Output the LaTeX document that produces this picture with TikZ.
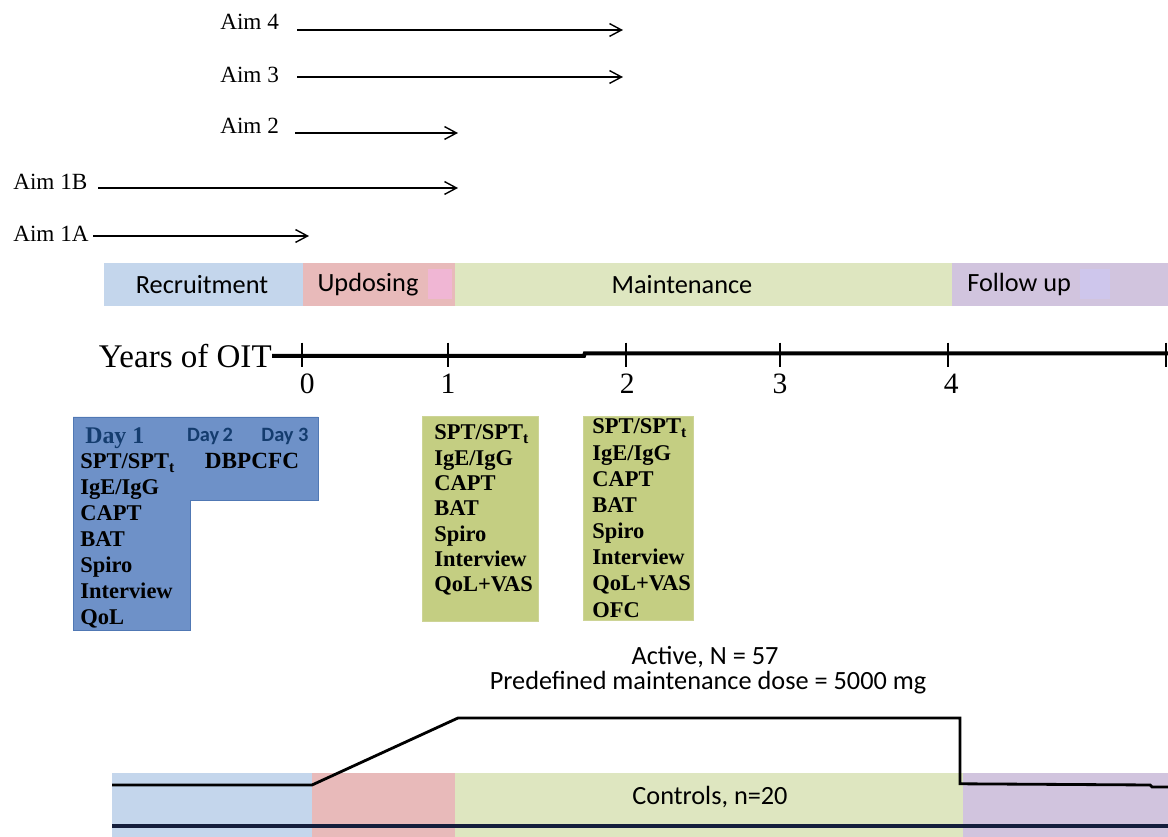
\documentclass[tikz,border=0pt]{standalone}
\usepackage{fontspec}
\setmainfont{Liberation Serif}
\newfontfamily\calibri{Carlito}
\usetikzlibrary{arrows.meta}

\definecolor{recblue}{RGB}{196,214,236}
\definecolor{upred}{RGB}{232,186,186}
\definecolor{uppink}{RGB}{240,182,212}
\definecolor{maingreen}{RGB}{222,230,192}
\definecolor{follav}{RGB}{209,196,222}
\definecolor{follpatch}{RGB}{206,198,236}
\definecolor{dayblue}{RGB}{110,145,200}
\definecolor{dayedge}{RGB}{80,120,180}
\definecolor{visgreen}{RGB}{196,206,130}
\definecolor{visedge}{RGB}{205,212,150}
\definecolor{daytxt}{RGB}{20,60,110}
\definecolor{ctrlline}{RGB}{20,30,60}

\begin{document}
\begin{tikzpicture}[
  aimtxt/.style={anchor=west,inner sep=0,font=\fontsize{16.5}{19}\selectfont},
  aimarrow/.style={line width=1pt,-{Straight Barb[length=3mm,width=3.2mm]}},
  phasetxt/.style={inner sep=0,font=\calibri\fontsize{18.7}{22}\selectfont},
  testtxt/.style={anchor=base west,inner sep=0,font=\fontsize{16}{18}\selectfont\bfseries},
  daysans/.style={anchor=base,inner sep=0,text=daytxt,font=\calibri\fontsize{14.5}{16}\selectfont\bfseries},
  axisline/.style={line width=2.8pt},
]
\useasboundingbox (0,0) rectangle (29.2,20.925);

% aims
\foreach \n/\lab/\lx/\ly/\sx/\ex/\ay in {a4/Aim 4/5.5/20.375/7.425/15.575/20.175,
    a3/Aim 3/5.5/19.05/7.425/15.575/19.0,
    a2/Aim 2/5.5/17.775/7.375/11.45/17.6,
    a1b/Aim 1B/0.325/16.375/2.45/11.45/16.225,
    a1a/Aim 1A/0.325/15.075/2.325/7.725/15.025}{
  \node[aimtxt] (\n) at (\lx,\ly) {\lab};
  \coordinate (\n-s) at (\sx,\ay);
  \coordinate (\n-e) at (\ex,\ay);
  \draw[aimarrow] (\n-s) -- (\n-e);
}

% phase bar
\fill[recblue] (2.6,13.275) rectangle (7.575,14.35);
\fill[upred] (7.575,13.275) rectangle (11.375,14.35);
\fill[uppink] (10.7,13.45) rectangle (11.3,14.2);
\fill[maingreen] (11.375,13.275) rectangle (23.8,14.35);
\fill[follav] (23.8,13.275) rectangle (29.2,14.35);
\fill[follpatch] (27.0,13.45) rectangle (27.75,14.2);
\node[phasetxt] (recr) at (5.05,13.82) {Recruitment};
\node[phasetxt] (updo) at (9.2,13.82) {Updosing};
\node[phasetxt] (main) at (17.05,13.82) {Maintenance};
\node[phasetxt] (folw) at (25.48,13.82) {Follow up};

% time axis
\node[anchor=east,inner sep=0,font=\fontsize{23.5}{27}\selectfont] (yrs) at (6.8,12.03) {Years of OIT};
\coordinate (jogL) at (14.6,12.03);
\coordinate (jogR) at (14.62,12.09);
\coordinate (axend) at (29.2,12.09);
\draw[axisline] (yrs.east) -- (jogL) -- (jogR) -- (axend);
\foreach \x/\lx/\t in {7.55/7.68/0,11.2/11.2/1,15.65/15.68/2,19.5/19.5/3,23.7/23.78/4}{
  \draw[line width=1.8pt] (\x,12.36) -- (\x,11.76);
  \node[font=\fontsize{21}{24}\selectfont,inner sep=0] (yr\t) at (\lx,11.32) {\t};
}
\draw[line width=1.8pt] (29.15,12.36) -- (29.15,11.76);

% visit boxes
\filldraw[fill=dayblue,draw=dayedge,line width=0.6pt] (1.825,10.5) -- (7.95,10.5) -- (7.95,8.425)
  -- (4.75,8.425) -- (4.75,5.175) -- (1.825,5.175) -- cycle;
\node[testtxt,text=daytxt,font=\fontsize{17}{20}\selectfont\bfseries] (day1) at (2.125,9.825) {Day 1};
\node[daysans] (day2) at (5.25,9.875) {Day\,2};
\node[daysans] (day3) at (7.125,9.875) {Day 3};
\node[anchor=base,inner sep=0,font=\fontsize{16.5}{18}\selectfont\bfseries] (dbpcfc) at (6.3,9.2) {DBPCFC};
\foreach \t [count=\i] in {SPT/SPT\textsubscript{t},IgE/IgG,CAPT,BAT,Spiro,Interview,QoL}
  \node[testtxt] (d1t\i) at (2.0,{9.2-0.646*(\i-1)}) {\t};

\filldraw[fill=visgreen,draw=visedge,line width=0.6pt] (10.55,10.525) rectangle (13.45,5.4);
\foreach \t [count=\i] in {SPT/SPT\textsubscript{t},IgE/IgG,CAPT,BAT,Spiro,Interview,QoL+VAS}
  \node[testtxt] (y1t\i) at (10.85,{9.925-0.633*(\i-1)}) {\t};

\filldraw[fill=visgreen,draw=visedge,line width=0.6pt] (14.575,10.525) rectangle (17.325,5.425);
\foreach \t [count=\i] in {SPT/SPT\textsubscript{t},IgE/IgG,CAPT,BAT,Spiro,Interview,QoL+VAS,OFC}
  \node[testtxt] (y2t\i) at (14.8,{10.075-0.654*(\i-1)}) {\t};

% dosing
\node[phasetxt] (active) at (17.625,4.5) {Active, N = 57};
\node[phasetxt] (dose) at (17.7,3.85) {Predefined maintenance dose = 5000 mg};
\fill[recblue] (2.8,0) rectangle (7.8,1.6);
\fill[upred] (7.8,0) rectangle (11.375,1.6);
\fill[maingreen] (11.375,0) rectangle (24.075,1.6);
\fill[follav] (24.075,0) rectangle (29.2,1.6);
\node[phasetxt] (ctrl) at (17.75,1.0) {Controls, n=20};
\draw[line width=2pt] (2.8,1.3) -- (7.8,1.3) -- (11.45,2.975) -- (24.0,2.975) -- (24.0,1.33)
  -- (28.75,1.3) -- (28.8,1.25) -- (29.2,1.25);
\draw[ctrlline,line width=2.4pt] (2.8,0.275) -- (29.2,0.275);
\end{tikzpicture}
\end{document}
